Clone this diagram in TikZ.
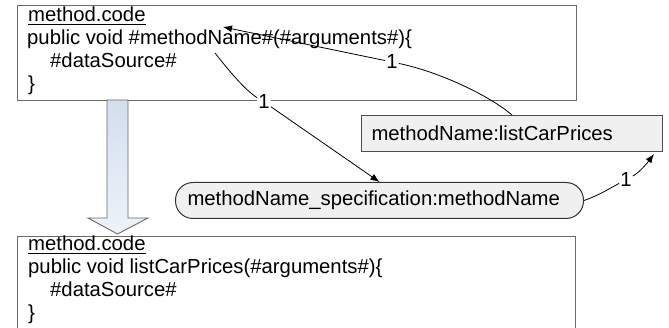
\documentclass[tikz,border=0pt]{standalone}
\usepackage{fontspec}
\setmainfont{Liberation Sans}
\usetikzlibrary{arrows.meta}
\definecolor{arrowTop}{HTML}{D3DEEE}
\definecolor{arrowBot}{HTML}{EEF3F9}
\definecolor{boxline}{HTML}{6A6A6A}
\definecolor{valfill}{HTML}{F0F0F0}
\begin{document}
\begin{tikzpicture}[x=1pt,y=-1pt,
  every node/.style={font=\fontsize{20.3}{23}\selectfont, inner sep=0pt},
  codebox/.style={draw=boxline, line width=1.3pt, anchor=north west},
  txt/.style={anchor=base west},
  valbox/.style={draw=black!70, fill=valfill, line width=1pt, minimum height=36pt,
                 text width=#1, align=left, inner xsep=10pt, anchor=north west},
  specbox/.style={draw=black!80, fill=valfill, line width=1pt, rounded corners=17.5pt,
                 minimum height=36pt, text width=#1, align=left, inner xsep=12pt, anchor=north west},
  lab/.style={fill=white, inner sep=1pt},
  conn/.style={draw=black, line width=0.8pt},
  tip/.style={-{Latex[length=9pt,width=7pt]}}
]
\useasboundingbox (0,0) rectangle (669,328);
\clip (0,0) rectangle (669,328);

% code boxes
\node[codebox, minimum width=559pt, minimum height=95pt] (code1) at (17,5) {};
\node[codebox, minimum width=558pt, minimum height=110pt] (code2) at (17,236) {};

% top code text
\node[txt] (t1) at (28,22) {method.code};
\node[txt] (t2) at (27,45) {public void \#methodName\#(\#arguments\#)\{};
\node[txt] (t3) at (50,68) {\#dataSource\#};
\node[txt] (t4) at (28,91) {\}};
\draw[line width=1.2pt] ([yshift=-2.5pt]t1.base west) -- ([yshift=-2.5pt]t1.base east);

% bottom code text
\node[txt] (b1) at (28,251) {method.code};
\node[txt] (b2) at (28,274) {public void listCarPrices(\#arguments\#)\{};
\node[txt] (b3) at (50,297) {\#dataSource\#};
\node[txt] (b4) at (28,320) {\}};
\draw[line width=1.2pt] ([yshift=-2.5pt]b1.base west) -- ([yshift=-2.5pt]b1.base east);

% block arrow
\draw[draw=boxline, line width=0.9pt, top color=arrowTop, bottom color=arrowBot]
  (107,100) -- (128,100) -- (128,218) -- (148,218) -- (117.5,234) -- (88,218) -- (107,218) -- cycle;

% value nodes
\node[valbox=281pt] (lcp) at (361,115) {methodName:listCarPrices};
\node[specbox=384pt] (spec) at (175,182) {methodName\_specification:methodName};

% coordinates
\coordinate (nameTip) at (223,27);
\coordinate (nameSrc) at (215,53);
\coordinate (lcpTip) at ([xshift=-9pt,yshift=-2pt]lcp.south east);

% labels
\node[lab] (L1) at (392,62) {1};
\node[lab] (L2) at (264,102) {1};
\node[lab] (L3) at (626,180) {1};

% connectors
\draw[conn] (lcp.north) .. controls (490,96) and (440,72) .. (L1);
\draw[conn,tip] (L1) -- (nameTip);

\draw[conn] (nameSrc) .. controls (230,72) and (245,90) .. (L2);
\draw[conn,tip] (L2) -- (spec.north);

\draw[conn] (spec.east) .. controls (600,195) and (610,188) .. (L3);
\draw[conn,tip] (L3) .. controls (640,172) and (648,162) .. (lcpTip);
\end{tikzpicture}
\end{document}
